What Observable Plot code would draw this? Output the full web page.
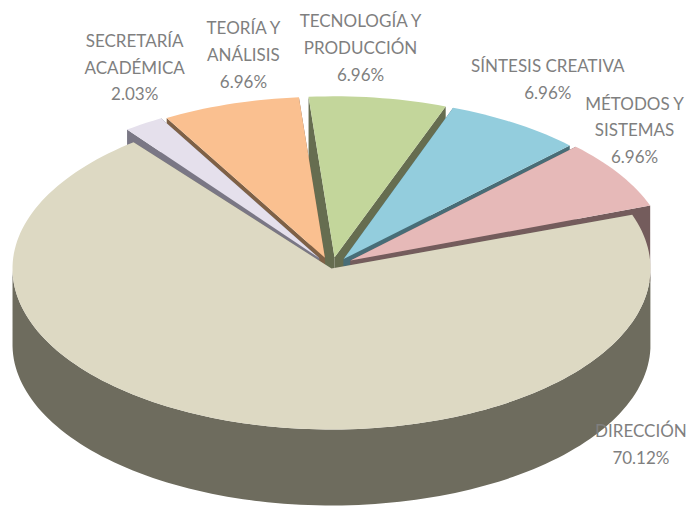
<!DOCTYPE html>
<html>
<head>
<meta charset="utf-8">
<style>html,body{margin:0;padding:0;background:#fff}svg{display:block}</style>
<script src="https://cdn.jsdelivr.net/npm/d3@7"></script>
<script src="https://cdn.jsdelivr.net/npm/@observablehq/plot@0.6"></script>
</head>
<body>
<div id="chart"></div>
<script>
// Data
const names = ["DIRECCIÓN","SECRETARÍA\nACADÉMICA","TEORÍA Y\nANÁLISIS","TECNOLOGÍA Y\nPRODUCCIÓN","SÍNTESIS CREATIVA","MÉTODOS Y\nSISTEMAS"];
const shares = [70.12,2.03,6.96,6.96,6.96,6.96];
const topColors = ["#DDD9C3","#E5E0EC","#FAC090","#C3D69B","#93CDDD","#E6B9B8"];
const wallColors = ["#6E6C5E","#7A7785","#7F6146","#666D50","#486D77","#745C5C"];

// Layout, in pie radii (1 = rim of the pie)
const startDeg = 70.5;
const startAdj = [0,0,0,0,-0.3,-0.5];
const endAdj = [-1.3,0,0,0,-0.3,-0.5];
const explode = [0,0.07,0.07,0.07,0.07,0.07];
const lift = [0,0.006,0,0,0,0.012];
const depth = 0.472;
const labelX = [0.970,-0.617,-0.276,0.091,0.678,0.950];
const labelY = [-1.078,1.264,1.342,1.386,1.189,0.873];
const paintOrder = [3,2,4,1,5,0];

const arcs = d3.pie().sort(null).startAngle(startDeg*Math.PI/180).endAngle((startDeg+360)*Math.PI/180)(shares);
const rad = d => d*Math.PI/180;

function outline(i){
  const a = arcs[i], mid=(a.startAngle+a.endAngle)/2, e=explode[i];
  const t0=a.startAngle+rad(startAdj[i]), t1=a.endAngle+rad(endAdj[i]);
  const ox=e*Math.sin(mid), oy=e*Math.cos(mid)+lift[i];
  const n=Math.max(2,Math.ceil((t1-t0)/(Math.PI/120)));
  const pts=[{x:ox,y:oy}];
  for(const t of d3.range(n+1)){
    const th=t0+(t1-t0)*t/n;
    pts.push({x:ox+Math.sin(th),y:oy+Math.cos(th)});
  }
  return pts;
}
// Extruded sides: the front-facing part of the rim plus the two radial cut faces
function walls(pts){
  const drop=p=>({x:p.x,y:p.y-depth});
  const rim=pts.slice(1), c=pts[0], s=rim[0], t=rim[rim.length-1];
  const front=rim.filter(p=>p.y<=c.y);
  const tag=(arr,k)=>arr.map(p=>({...p,k}));
  return [
    ...tag([...front,...front.slice().reverse().map(drop)],0),
    ...tag([c,s,drop(s),drop(c)],1),
    ...tag([c,t,drop(t),drop(c)],2)
  ];
}

const marks = paintOrder.flatMap(i=>{
  const pts=outline(i);
  return [
    Plot.line(walls(pts),{x:"x",y:"y",z:"k",fill:wallColors[i],stroke:"none",curve:"linear-closed"}),
    Plot.line(pts,{x:"x",y:"y",fill:topColors[i],stroke:"none",curve:"linear-closed"})
  ];
});

const labels = names.map((n,i)=>({text:`${n}\n${shares[i].toFixed(2)}%`,x:labelX[i],y:labelY[i]}));
marks.push(Plot.text(labels,{x:"x",y:"y",text:"text",fill:"#7F7F7F",fontSize:17,lineHeight:1.57,fontFamily:"Lato, 'Open Sans', sans-serif",textAnchor:"middle"}));

const chart = Plot.plot({
  width:689,height:506,margin:0,
  style:{background:"#fff"},
  x:{domain:[-1,1],range:[12,650],axis:null},
  y:{domain:[-1,1],range:[429,107],axis:null},
  marks
});
document.getElementById("chart").append(chart);
</script>
</body>
</html>
